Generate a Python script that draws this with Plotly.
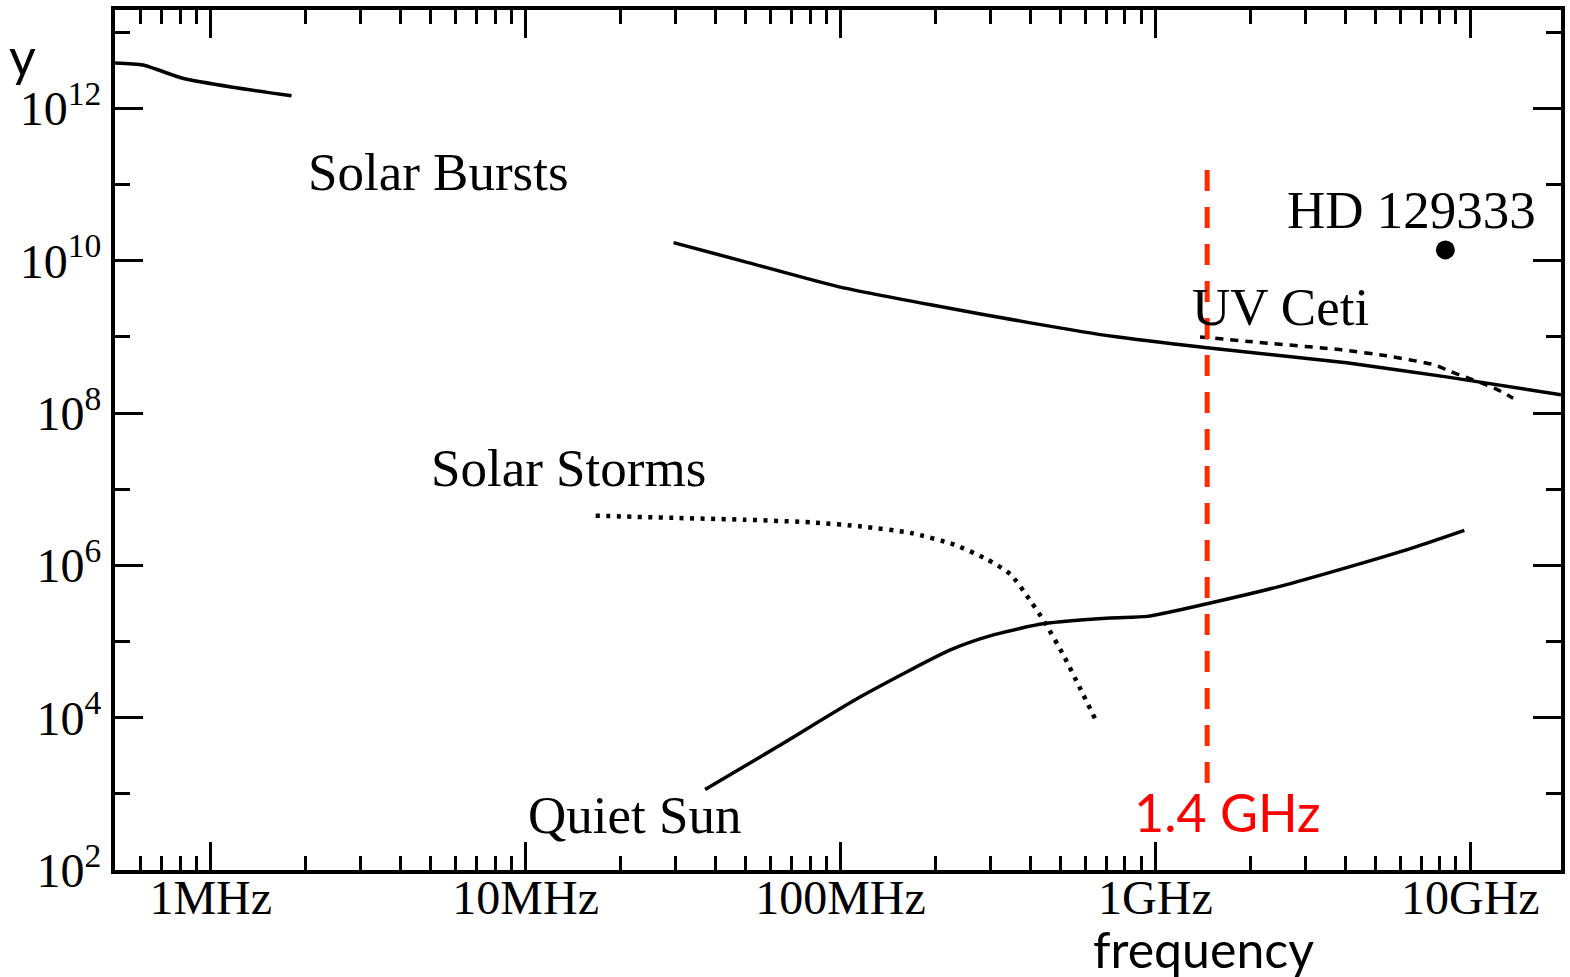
import plotly.graph_objects as go

# ---- data (frequency in MHz, flux density arbitrary units) ----
burst_low_freq_mhz = [0.497, 0.609, 0.815, 1.174, 1.805]
burst_low_flux = [3.95e12, 3.72e12, 2.49e12, 1.90e12, 1.47e12]

burst_freq_mhz = [29.5, 50.9, 98.2, 193.5, 401, 740, 1459, 4047, 8395, 19410]
burst_flux = [1.73e10, 9.47e9, 4.58e9, 2.64e9, 1.53e9, 1.01e9, 7.2e8, 4.57e8, 2.99e8, 1.74e8]

storm_freq_mhz = [16.69, 30.58, 49.75, 80.8, 116.4, 167.6, 230, 293.2, 347.5, 402.1, 443.3, 512.9, 579.0, 645.7]
storm_flux = [4.49e6, 4.19e6, 3.98e6, 3.67e6, 3.25e6, 2.66e6, 1.87e6, 1.19e6, 7.55e5, 3.37e5, 1.84e5, 6.40e4, 2.34e4, 9.44e3]

quiet_freq_mhz = [37.15, 63.4, 116.4, 224.3, 307.8, 443.3, 719, 942, 1459, 2484, 4047, 6595, 9572]
quiet_flux = [1138, 4217, 1.91e4, 7.83e4, 1.23e5, 1.72e5, 2.04e5, 2.14e5, 3.14e5, 5.30e5, 9.33e5, 1.71e6, 2.88e6]

uvceti_freq_mhz = [1386, 1982, 3903, 5420, 7691, 8648, 11912, 13680]
uvceti_flux = [1.00e9, 8.71e8, 6.77e8, 5.65e8, 4.31e8, 3.52e8, 2.13e8, 1.57e8]

hd_freq_mhz = [8334]
hd_flux = [1.39e10]

marker_freq_mhz = [1460, 1460]
marker_flux = [1.56e11, 1.17e3]

x_tick_vals = [1, 10, 100, 1000, 10000]
x_tick_text = ["1MHz", "10MHz", "100MHz", "1GHz", "10GHz"]
x_minor_vals = [m * 10 ** d for d in range(-1, 5) for m in range(2, 10)]

y_tick_vals = [1e2, 1e4, 1e6, 1e8, 1e10, 1e12]
y_tick_text = ["10<sup>2</sup>", "10<sup>4</sup>", "10<sup>6</sup>", "10<sup>8</sup>",
               "10<sup>10</sup>", "10<sup>12</sup>"]
y_minor_vals = [1e3, 1e5, 1e7, 1e9, 1e11, 1e13]

# ---- figure ----
W, H = 1570, 977
L, R, T, B = 115, 5, 10, 107
pw, ph = W - L - R, H - T - B

def px(x):
    return (x - L) / pw

def py(y):
    return (H - B - y) / ph

fig = go.Figure()
solid = dict(color="black", width=3.5)
fig.add_trace(go.Scatter(x=burst_low_freq_mhz, y=burst_low_flux, mode="lines",
                         line=dict(shape="spline", smoothing=0.6, **solid)))
fig.add_trace(go.Scatter(x=burst_freq_mhz, y=burst_flux, mode="lines",
                         line=dict(shape="spline", smoothing=0.5, **solid)))
fig.add_trace(go.Scatter(x=quiet_freq_mhz, y=quiet_flux, mode="lines",
                         line=dict(shape="spline", smoothing=0.6, **solid)))
fig.add_trace(go.Scatter(x=storm_freq_mhz, y=storm_flux, mode="lines",
                         line=dict(color="black", width=4.5, dash="4px,6.5px", shape="spline", smoothing=0.6)))
fig.add_trace(go.Scatter(x=uvceti_freq_mhz, y=uvceti_flux, mode="lines",
                         line=dict(color="black", width=3.5, dash="8px,7px", shape="spline", smoothing=0.5)))
fig.add_trace(go.Scatter(x=hd_freq_mhz, y=hd_flux, mode="markers",
                         marker=dict(color="black", size=19)))
fig.add_trace(go.Scatter(x=marker_freq_mhz, y=marker_flux, mode="lines",
                         line=dict(color="#ff2a00", width=5, dash="21px,16px")))

serif = "Liberation Serif"
comic = "Comic Sans MS, Lato, Noto Sans"
ann = [
    ("Solar Bursts", 439, 172, serif, 53, "black"),
    ("Solar Storms", 570, 468, serif, 53, "black"),
    ("Quiet Sun", 636, 815, serif, 53, "black"),
    ("UV Ceti", 1284, 307, serif, 53, "black"),
    ("HD 129333", 1415, 210, serif, 53, "black"),
    ("1.4 GHz", 1231, 812, comic, 52, "#ff0000"),
    ("frequency", 1207, 949, comic, 50, "black"),
    ("y", 22, 56, comic, 52, "black"),
]
for text, x, y, fam, size, col in ann:
    fig.add_annotation(text=text, x=px(x), y=py(y), xref="paper", yref="paper",
                       showarrow=False, xanchor="center", yanchor="middle", borderpad=0,
                       font=dict(family=fam, size=size, color=col))

axis_common = dict(showline=True, linecolor="black", linewidth=4, mirror="allticks",
                   ticks="inside", tickcolor="black", tickwidth=3,
                   showgrid=False, zeroline=False,
                   tickfont=dict(family=serif, size=48, color="black"))

fig.update_xaxes(type="log", range=[-0.304, 4.288], tickmode="array",
                 tickvals=x_tick_vals, ticktext=x_tick_text, ticklen=28,
                 ticklabelstandoff=-18,
                 minor=dict(tickmode="array", tickvals=x_minor_vals, ticks="inside",
                            ticklen=14, tickwidth=3, tickcolor="black", showgrid=False),
                 **axis_common)
fig.update_yaxes(type="log", range=[2, 13.293], tickmode="array",
                 tickvals=y_tick_vals, ticktext=y_tick_text, ticklen=28,
                 minor=dict(tickmode="array", tickvals=y_minor_vals, ticks="inside",
                            ticklen=15, tickwidth=3, tickcolor="black", showgrid=False),
                 **axis_common)

fig.update_layout(width=W, height=H, margin=dict(l=L, r=R, t=T, b=B),
                  paper_bgcolor="white", plot_bgcolor="white", showlegend=False)

fig.write_html("out.html")
